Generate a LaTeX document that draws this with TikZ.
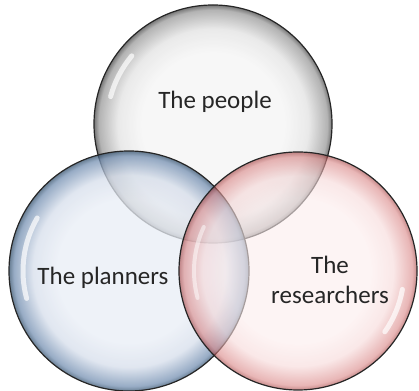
\documentclass[tikz,border=0pt]{standalone}
\usepackage{fontspec}
\setmainfont{Carlito}
\usetikzlibrary{positioning}

\definecolor{txtgray}{HTML}{262626}
\definecolor{gin}{HTML}{F5F5F5}\definecolor{gmid}{HTML}{E4E4E4}\definecolor{gedge}{HTML}{A0A0A0}\definecolor{grim}{HTML}{555555}
\definecolor{bin}{HTML}{E8EDF5}\definecolor{bmid}{HTML}{D6DEEB}\definecolor{bedge}{HTML}{7590B2}\definecolor{brim}{HTML}{36536F}
\definecolor{rin}{HTML}{FCEDED}\definecolor{rmid}{HTML}{F6D8D8}\definecolor{redge}{HTML}{D98585}\definecolor{rrim}{HTML}{A03C3C}
\pgfdeclareradialshading{glassgray}{\pgfpoint{0bp}{0bp}}{color(0bp)=(gin); color(15bp)=(gin); color(20bp)=(gmid); color(24bp)=(gedge); color(25bp)=(grim); color(50bp)=(grim)}
\pgfdeclareradialshading{glassblue}{\pgfpoint{0bp}{0bp}}{color(0bp)=(bin); color(15bp)=(bin); color(20bp)=(bmid); color(24bp)=(bedge); color(25bp)=(brim); color(50bp)=(brim)}
\pgfdeclareradialshading{glassred}{\pgfpoint{0bp}{0bp}}{color(0bp)=(rin); color(15bp)=(rin); color(20bp)=(rmid); color(24bp)=(redge); color(25bp)=(rrim); color(50bp)=(rrim)}

\begin{document}
\begin{tikzpicture}[x=1pt,y=1pt]
  \useasboundingbox (0,0) rectangle (419,390);
  \node[inner sep=0pt,minimum size=238pt,circle,draw=black!85,line width=1.2pt,shading=glassgray,fill opacity=0.8](people) at (213,266){};
  \node[inner sep=0pt,minimum size=240pt,circle,draw=black!85,line width=1.2pt,shading=glassblue,fill opacity=0.75](planners) at (129,119){};
  \node[inner sep=0pt,minimum size=238pt,circle,draw=black!85,line width=1.2pt,shading=glassred,fill opacity=0.6](researchers) at (298,119){};
  % glossy highlights
  \draw[white,opacity=0.7,line width=5pt,line cap=round] (people) ++(140:106) arc[start angle=140,end angle=165,radius=106];
  \draw[white,opacity=0.7,line width=5pt,line cap=round] (planners) ++(150:106) arc[start angle=150,end angle=195,radius=106];
  \draw[white,opacity=0.7,line width=5pt,line cap=round] (researchers) ++(-10:106) arc[start angle=-10,end angle=-35,radius=106];
  \draw[white,opacity=0.5,line width=4pt,line cap=round] (researchers) ++(155:104) arc[start angle=155,end angle=195,radius=104];
  % labels
  \node[text=txtgray,font=\fontsize{25}{30}\selectfont](peopletxt) at (215,288){The people};
  \node[text=txtgray,font=\fontsize{25}{30}\selectfont](plannerstxt) at (103,112){The planners};
  \node[text=txtgray,font=\fontsize{25}{30}\selectfont,align=center](researcherstxt) at (330,110){The\\researchers};
\end{tikzpicture}
\end{document}
